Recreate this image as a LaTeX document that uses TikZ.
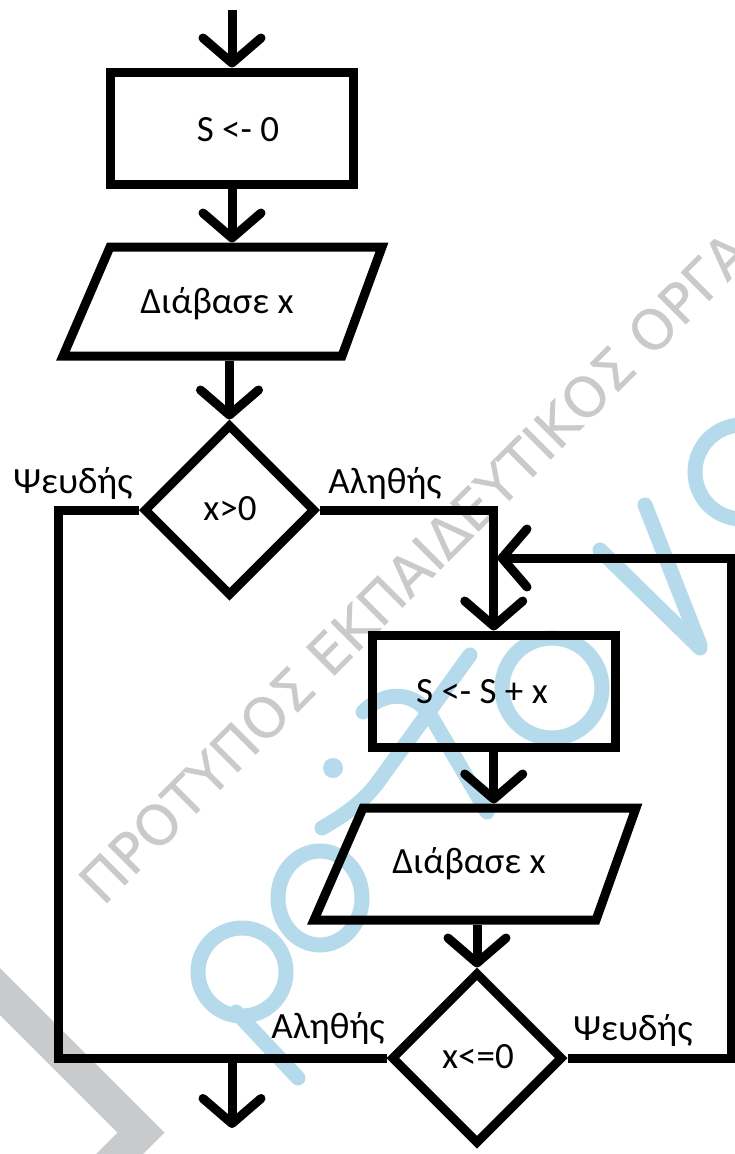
\documentclass[tikz,border=0pt]{standalone}
\usepackage{fontspec}
\setmainfont{Carlito}
\newfontfamily\wmfont[FakeBold=0.5]{DejaVu Sans}
\usetikzlibrary{arrows.meta,shapes.geometric,calc}
\definecolor{wmgray}{RGB}{201,202,204}
\definecolor{wmblue}{RGB}{180,218,236}

\begin{document}
\begin{tikzpicture}[x=1pt,y=-1pt,
  flowline/.style={line width=9pt,line join=miter},
  chev/.style={-{Straight Barb[length=25pt,width=58pt,round]}},
  box/.style={draw,line width=9pt,inner sep=0pt},
  procbox/.style={box,minimum width=242.5pt,minimum height=112pt},
  iobox/.style={inner sep=0pt,outer sep=0pt},
  decbox/.style={box,diamond,aspect=1,minimum width=172pt,minimum height=172pt},
  txt/.style={anchor=base,inner sep=0pt,font=\fontsize{37}{42}\selectfont},
  wmtext/.style={anchor=base west,inner sep=0pt,text=wmgray,font=\wmfont\fontsize{55}{60}\selectfont}]
\useasboundingbox (0,0) rectangle (735,1154);

% ---- background marks ----
\fill[wmgray] (0,968) -- (164.5,1132.5) -- (143,1154) -- (96,1154) -- (117.5,1132.5) -- (0,1015) -- cycle;
\node[wmtext,rotate=45] (wm) at (103,907) {ΠΡΟΤΥΠΟΣ ΕΚΠΑΙΔΕΥΤΙΚΟΣ ΟΡΓΑ};
\begin{scope}[draw=wmblue,fill=wmblue,line width=15pt,line cap=round]
  \draw (242,972) circle [radius=44];
  \draw (236,1012) -- (298,1078);
  \draw (320,898) ellipse [x radius=42, y radius=47];
  \fill (333,768) circle [radius=10];
  \draw (322,828) .. controls (345,815) and (365,800) .. (378,782);
  \draw (363,712) .. controls (385,690) and (415,690) .. (432,718) -- (487,812);
  \draw (378,782) -- (470,655);
  \draw (552,688) circle [radius=50];
  \draw (600,550) -- (700,648);
  \draw (645,505) -- (700,645);
  \draw (742,425) arc [start angle=270, end angle=95, radius=47];
\end{scope}

% ---- flowchart shapes ----
\coordinate (start) at (232,10);
\node[procbox] (init) at (232,128) {};
\node[iobox,minimum width=328pt,minimum height=118pt] (read1) at (222.5,301.5) {};
\draw[flowline] ([shift={(51.5pt,-4.5pt)}]read1.north west) -- ([shift={(-4.5pt,-4.5pt)}]read1.north east)
  -- ([shift={(-44.5pt,4.5pt)}]read1.south east) -- ([shift={(4.5pt,4.5pt)}]read1.south west) -- cycle;
\node[decbox] (test1) at (229.5,510) {};
\node[procbox] (body) at (493.75,691) {};
\node[iobox,minimum width=331pt,minimum height=121pt] (read2) at (475,864) {};
\draw[flowline] ([shift={(53.5pt,-4.5pt)}]read2.north west) -- ([shift={(-4.5pt,-4.5pt)}]read2.north east)
  -- ([shift={(-44.5pt,4.5pt)}]read2.south east) -- ([shift={(4.5pt,4.5pt)}]read2.south west) -- cycle;
\node[decbox] (test2) at (477,1058) {};

% ---- texts ----
\node[txt] (tinit) at (238,141) {S <- 0};
\node[txt] (tread1) at (217,313) {Διάβασε x};
\node[txt] (ttest1) at (230,520) {x>0};
\node[txt] (tbody) at (482,703) {S <- S + x};
\node[txt] (tread2) at (469,873) {Διάβασε x};
\node[txt] (ttest2) at (478,1068) {x<=0};
\node[txt] (no1) at (73,493) {Ψευδής};
\node[txt] (yes1) at (385,493) {Αληθής};
\node[txt] (yes2) at (328,1038) {Αληθής};
\node[txt] (no2) at (633,1040) {Ψευδής};

% ---- connectors ----
\coordinate (joinL) at (58,1058);
\coordinate (joinE) at (232,1058);
\coordinate (exit) at (232,1128);
\coordinate (loopR) at (731,558);
\coordinate (loopIn) at (497.5,558);

\draw[flowline,chev] (start) -- (init.north);
\draw[flowline,chev] (init.south) -- (init.south |- read1.north);
\draw[flowline,chev] (read1.south -| test1.north) -- (test1.north);
\draw[flowline,chev] (test1.east) -| (body.north);
\draw[flowline,chev] (body.south) -- (body.south |- read2.north);
\draw[flowline,chev] (read2.south -| test2.north) -- (test2.north);
\draw[flowline] (test1.west) -| (joinL) -- (test2.west);
\draw[flowline,chev] (joinE) -- (exit);
\draw[flowline,chev] (test2.east) -| (loopR) -- (loopIn);
\end{tikzpicture}
\end{document}
